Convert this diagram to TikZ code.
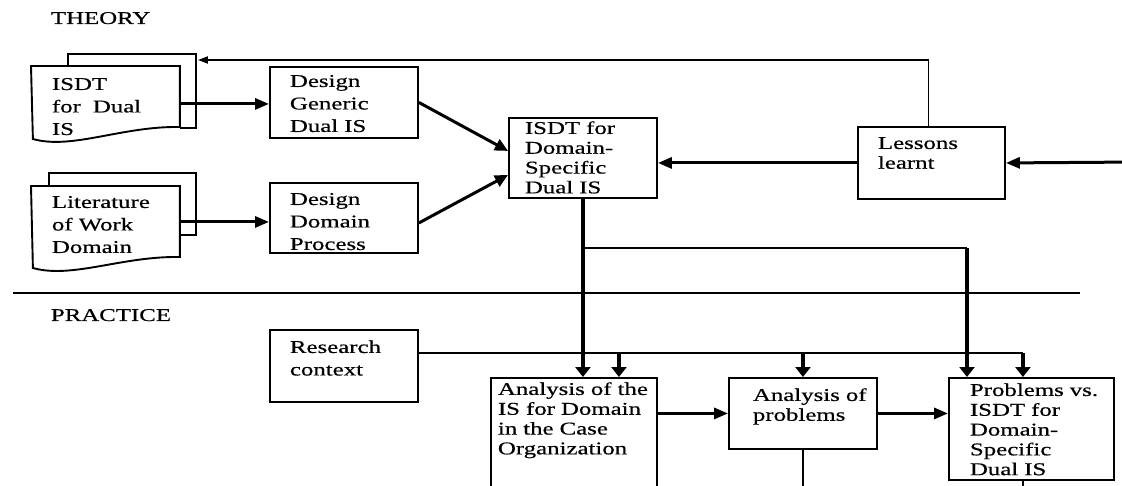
\documentclass[tikz,border=0pt]{standalone}
\usepackage{fontspec}
\setmainfont{Liberation Serif}[FakeStretch=1.38,FakeBold=0.5]
\usetikzlibrary{arrows.meta,calc}

\tikzset{
  blk/.style={draw, anchor=north west, align=left, inner sep=0pt},
  doc/.style={anchor=north west, align=left, inner sep=0pt},
  indent/.style={execute at begin node={\leftskip=#1\relax}},
  tight/.style={font=\fontsize{18}{19.8}\selectfont},
  flow/.style={line width=3pt, -{Triangle[length=14pt,width=11pt]}},
  slant/.style={line width=3pt, -{Triangle[length=13pt,width=12pt]}},
  drop/.style={line width=4pt, -{Triangle[length=10pt,width=15pt]}},
  back/.style={line width=1.8pt, -{Triangle[length=10pt,width=7pt]}},
}

\begin{document}
\begin{tikzpicture}[x=1pt,y=-1pt,line width=1.9pt,
    font=\fontsize{18}{22.5}\selectfont]

\useasboundingbox (0,0) rectangle (1122,486);
\clip (0,0) rectangle (1122,486);

% Section titles
\node[anchor=base west, inner sep=0pt] (theory) at (50,24) {THEORY};
\node[anchor=base west, inner sep=0pt] (practice) at (50,321) {PRACTICE};

% Separator
\coordinate (sepL) at (13,293);
\coordinate (sepR) at (1080,293);
\draw (sepL) -- (sepR);

% ISDT document
\node[doc, indent=20pt,
    text width=147pt,
    text height=23pt,
    text depth=51pt] (isdt) at (31,66) {ISDT\\for~ Dual\\IS};
\draw ([xshift=37pt]isdt.north west) |- ++(128,-12) |- ([yshift=14pt]isdt.south east);
\draw (isdt.north west) -- (isdt.north east) -- ++(0,61)
    .. controls +(-58,-1) and +(39,11) .. ++(-147,12) -- cycle;

% Literature document
\node[doc, indent=20pt,
    text width=147pt,
    text height=21pt,
    text depth=49pt] (lit) at (31,186) {Literature\\of Work\\Domain};
\draw ([xshift=18pt]lit.north west) |- ++(147,-13) |- ([yshift=23pt]lit.south east);
\draw (lit.north west) -- (lit.north east) -- ++(0,71)
    .. controls +(-58,-1) and +(39,11) .. ++(-147,11) -- cycle;

% Design blocks
\node[blk, indent=20pt,
    text width=148pt,
    text height=20pt,
    text depth=51pt] (generic) at (269,66) {Design\\Generic\\Dual IS};

\node[blk, indent=20pt,
    text width=148pt,
    text height=22pt,
    text depth=48pt] (process) at (269,182) {Design\\Domain\\Process};

% ISDT for the domain
\node[blk, tight, indent=16pt,
    text width=148pt,
    text height=16pt,
    text depth=64pt] (specific) at (508,117) {ISDT for\\Domain-\\Specific\\Dual IS};

% Lessons
\node[blk, tight, indent=20pt,
    text width=147pt,
    text height=22pt,
    text depth=50pt] (lessons) at (857,126) {Lessons\\learnt};

% Research context
\node[blk, indent=20pt,
    text width=148pt,
    text height=23pt,
    text depth=49pt] (context) at (269,329) {Research\\context};

% Practice blocks
\node[blk, tight, indent=7pt,
    text width=166pt,
    text height=17pt,
    text depth=126pt] (caseIS) at (490,377) {Analysis of the\\IS for Domain\\in the Case\\Organization};

\node[blk, tight, indent=24pt,
    text width=148pt,
    text height=23pt,
    text depth=48pt] (problems) at (728,377) {Analysis of\\problems};

\node[blk, tight, indent=21pt,
    text width=165pt,
    text height=18pt,
    text depth=84pt] (versus) at (948,377) {Problems vs.\\ISDT for\\Domain-\\Specific\\Dual IS};

% Free ends
\coordinate (input) at (1140,162);
\coordinate (below) at (0,500);
\coordinate (branch) at ([yshift=-49pt]specific.south);
\coordinate (ctx) at ([yshift=13pt]context.east);
\coordinate (caseB) at ([xshift=45pt]caseIS.north);
\coordinate (vsA) at ([xshift=19pt]versus.north west);
\coordinate (vsB) at ([xshift=-8.5pt]versus.north);

% Arrows, theory
\draw[flow] (isdt.east) -- (isdt.east -| generic.west);
\draw[flow] (lit.east) -- (lit.east -| process.west);
\draw[slant] (generic.east) -- ([yshift=7pt]specific.west);
\draw[slant] ([yshift=-5pt]process.east) -- ([yshift=-17pt]specific.west);
\draw[flow] (input) -- (lessons.east);
\draw[flow] (lessons.west) -- (lessons.west -| specific.east);
\draw[back] ([xshift=-3pt]lessons.north) |- ([xshift=18pt,yshift=6pt]isdt.north east);

% Arrows, theory to practice
\draw[drop] (specific.south) -- (specific.south |- caseIS.north);
\draw (branch) -- (branch -| vsA);
\draw[drop] (branch -| vsA) -- (vsA);

% Research context lines
\draw (ctx) -- (ctx -| vsB);
\draw[drop] (ctx -| caseB) -- (caseB);
\draw[drop] (ctx -| problems.north) -- (problems.north);
\draw[drop] (ctx -| vsB) -- (vsB);

% Arrows, practice
\draw[flow] (problems.west -| caseIS.east) -- (problems.west);
\draw[flow] (problems.east) -- (problems.east -| versus.west);
\draw (problems.south) -- (problems.south |- below);
\draw ([xshift=-8.5pt]versus.south) -- (vsB |- below);

\end{tikzpicture}
\end{document}
